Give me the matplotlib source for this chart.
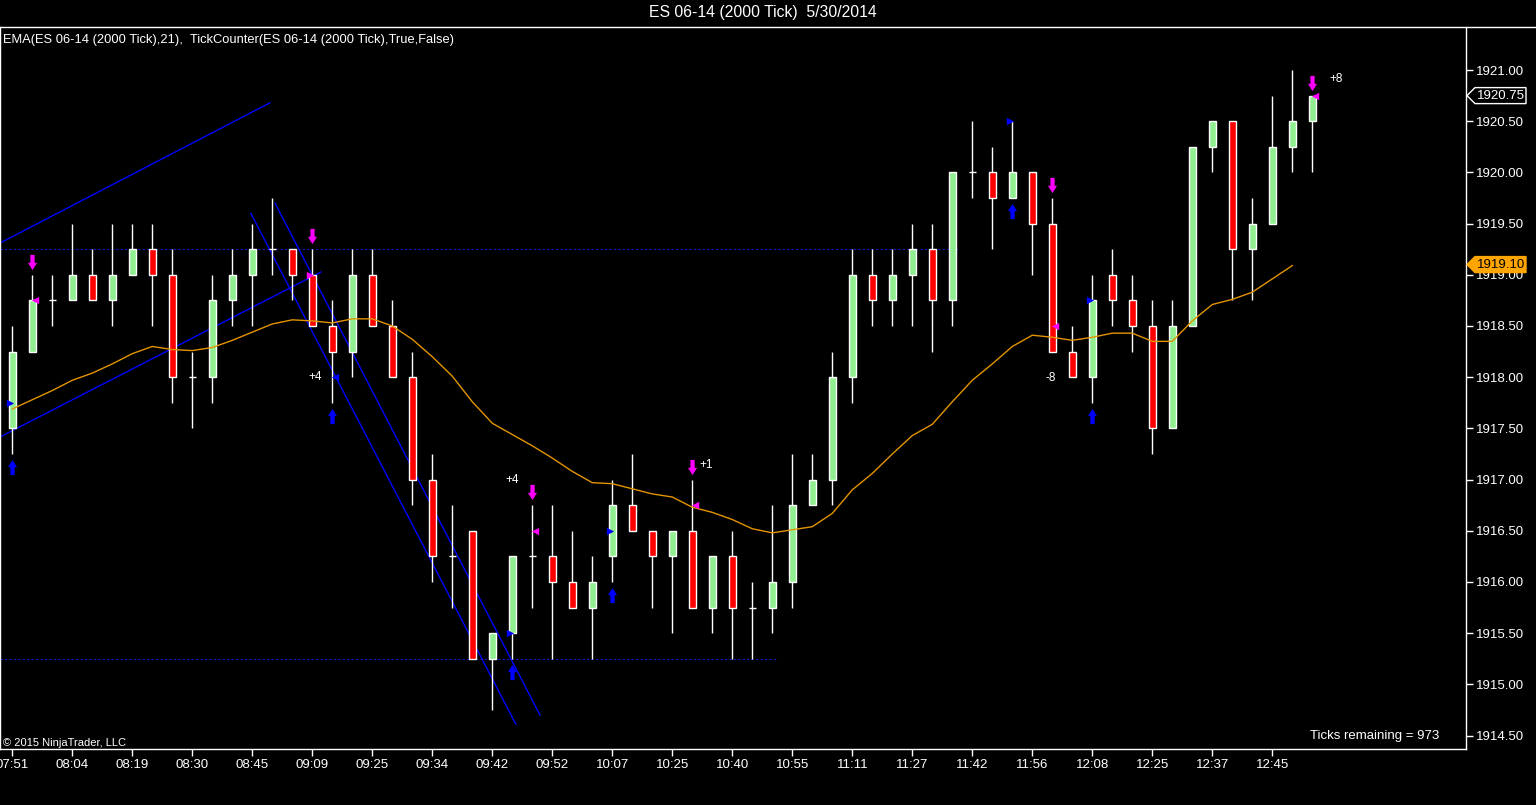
import numpy as np
import matplotlib
matplotlib.use('Agg')
import matplotlib.pyplot as plt
from matplotlib.path import Path
from matplotlib.patches import Polygon
from matplotlib.lines import Line2D
from matplotlib.transforms import blended_transform_factory

plt.rcParams['font.family'] = ['Liberation Sans', 'DejaVu Sans']

# ---- data (one candle per 2000 ticks) ----
time_labels = ['07:51', '08:04', '08:19', '08:30', '08:45', '09:09', '09:25', '09:34',
               '09:42', '09:52', '10:07', '10:25', '10:40', '10:55', '11:11', '11:27',
               '11:42', '11:56', '12:08', '12:25', '12:37', '12:45']

opens = [1917.50, 1918.25, 1918.75, 1918.75, 1919.00, 1918.75, 1919.00, 1919.25, 1919.00, 1918.00,
         1918.00, 1918.75, 1919.00, 1919.25, 1919.25, 1919.00, 1918.50, 1918.25, 1919.00, 1918.50,
         1918.00, 1917.00, 1916.25, 1916.50, 1915.25, 1915.50, 1916.25, 1916.25, 1916.00, 1915.75,
         1916.25, 1916.75, 1916.50, 1916.25, 1916.50, 1915.75, 1916.25, 1915.75, 1915.75, 1916.00,
         1916.75, 1917.00, 1918.00, 1919.00, 1918.75, 1919.00, 1919.25, 1918.75, 1920.00, 1920.00,
         1919.75, 1920.00, 1919.50, 1918.25, 1918.00, 1919.00, 1918.75, 1918.50, 1917.50, 1918.50,
         1920.25, 1920.50, 1919.25, 1919.50, 1920.25, 1920.50]
highs = [1918.50, 1919.00, 1919.00, 1919.50, 1919.25, 1919.50, 1919.50, 1919.50, 1919.25, 1918.25,
         1919.00, 1919.25, 1919.50, 1919.75, 1919.25, 1919.25, 1918.75, 1919.25, 1919.25, 1918.75,
         1918.25, 1917.25, 1916.75, 1916.50, 1915.50, 1916.25, 1916.75, 1916.75, 1916.50, 1916.25,
         1917.00, 1917.25, 1916.50, 1916.50, 1917.00, 1916.25, 1916.50, 1916.00, 1916.75, 1917.25,
         1917.25, 1918.25, 1919.25, 1919.25, 1919.25, 1919.50, 1919.50, 1920.00, 1920.50, 1920.25,
         1920.50, 1920.00, 1919.75, 1918.50, 1919.00, 1919.25, 1919.00, 1918.75, 1918.75, 1920.25,
         1920.50, 1920.50, 1919.75, 1920.75, 1921.00, 1920.75]
lows = [1917.25, 1918.25, 1918.50, 1918.75, 1918.75, 1918.50, 1919.00, 1918.50, 1917.75, 1917.50,
        1917.75, 1918.50, 1918.50, 1919.00, 1918.75, 1918.50, 1917.75, 1918.00, 1918.50, 1918.00,
        1916.75, 1916.00, 1915.75, 1915.25, 1914.75, 1915.25, 1915.75, 1915.25, 1915.75, 1915.25,
        1916.00, 1916.50, 1915.75, 1915.50, 1915.75, 1915.50, 1915.25, 1915.25, 1915.50, 1915.75,
        1916.75, 1916.75, 1917.75, 1918.50, 1918.50, 1918.50, 1918.25, 1918.50, 1919.75, 1919.25,
        1919.75, 1919.00, 1918.25, 1918.00, 1917.75, 1918.50, 1918.25, 1917.25, 1917.50, 1918.50,
        1920.00, 1918.75, 1918.75, 1919.50, 1920.00, 1920.00]
closes = [1918.25, 1918.75, 1918.75, 1919.00, 1918.75, 1919.00, 1919.25, 1919.00, 1918.00, 1918.00,
          1918.75, 1919.00, 1919.25, 1919.25, 1919.00, 1918.50, 1918.25, 1919.00, 1918.50, 1918.00,
          1917.00, 1916.25, 1916.25, 1915.25, 1915.50, 1916.25, 1916.25, 1916.00, 1915.75, 1916.00,
          1916.75, 1916.50, 1916.25, 1916.50, 1915.75, 1916.25, 1915.75, 1915.75, 1916.00, 1916.75,
          1917.00, 1918.00, 1919.00, 1918.75, 1919.00, 1919.25, 1918.75, 1920.00, 1920.00, 1919.75,
          1920.00, 1919.50, 1918.25, 1918.00, 1918.75, 1918.75, 1918.50, 1917.50, 1918.50, 1920.25,
          1920.50, 1919.25, 1919.50, 1920.25, 1920.50, 1920.75]

# EMA(21), drawn up to the last closed bar
ema = [1917.69, 1917.78, 1917.87, 1917.97, 1918.04, 1918.13, 1918.23, 1918.30, 1918.27, 1918.26,
       1918.29, 1918.36, 1918.44, 1918.52, 1918.56, 1918.55, 1918.53, 1918.57, 1918.57, 1918.50,
       1918.37, 1918.20, 1918.01, 1917.76, 1917.55, 1917.44, 1917.33, 1917.21, 1917.08, 1916.97,
       1916.96, 1916.91, 1916.86, 1916.83, 1916.73, 1916.68, 1916.61, 1916.52, 1916.48, 1916.51,
       1916.54, 1916.67, 1916.90, 1917.06, 1917.25, 1917.43, 1917.54, 1917.76, 1917.97, 1918.13,
       1918.30, 1918.41, 1918.39, 1918.36, 1918.39, 1918.43, 1918.43, 1918.35, 1918.35, 1918.55,
       1918.71, 1918.76, 1918.83, 1918.96, 1919.09]

# signal markers
up_arrow_bars = [0, 16, 25, 30, 50, 54]
down_arrow_bars = [1, 15, 26, 34, 52, 65]
blue_right_bars = [0, 25, 30, 50, 54]
blue_right_prices = [1917.75, 1915.50, 1916.50, 1920.50, 1918.75]
blue_left_bars = [16]
blue_left_prices = [1918.00]
mag_right_bars = [15]
mag_right_prices = [1919.00]
mag_left_bars = [1, 26, 34, 52, 65]
mag_left_prices = [1918.75, 1916.50, 1916.75, 1918.50, 1920.75]

# tick counter labels
count_texts = ['+4', '+4', '+1', '-8', '+8']
count_bars = [15.15, 24.98, 34.7, 51.9, 66.2]
count_prices = [1918.00, 1917.00, 1917.14, 1917.99, 1920.91]

# drawing objects (bar index, price)
trend_lines = [
    ([-0.615, 12.885], [1919.31, 1920.68]),
    ([-0.615, 15.43], [1917.416, 1919.027]),
    ([11.93, 25.18], [1919.60, 1914.61]),
    ([13.135, 26.385], [1919.70, 1914.70]),
]
hlines = [(1919.25, -0.615, 47.3), (1915.25, -0.615, 38.3)]

last_price = 1920.75
ema_price = 1919.10

# ---- figure ----
W, H = 1536, 805
fig = plt.figure(figsize=(W / 100, H / 100), dpi=100, facecolor='black')
ax_l, ax_b, ax_w, ax_h = 0, 56, 1466, 722
ax = fig.add_axes([ax_l / W, ax_b / H, ax_w / W, ax_h / H], facecolor='black')
ymin, ymax = 1914.369, 1921.42
ax.set_xlim(-0.615, 72.685)
ax.set_ylim(ymin, ymax)
ppu = ax_h / (ymax - ymin)   # pixels per price unit

x = np.arange(len(opens))
o = np.array(opens); c = np.array(closes)
hi = np.array(highs); lo = np.array(lows)

# drawing objects
for xs, ys in trend_lines:
    ax.plot(xs, ys, color='#0000FF', lw=1, zorder=1)
for y, x0, x1 in hlines:
    ax.plot([x0, x1], [y, y], color='#1818C8', lw=0.8, ls=(0, (2, 2)), zorder=1)

# candles
ax.vlines(x, lo, hi, color='white', lw=1, zorder=2)
cols = np.where(c > o, '#90EE90', np.where(c < o, '#FF0000', 'white'))
ax.bar(x, c - o, bottom=o, width=0.34, color=cols, edgecolor='white', lw=1, zorder=3)

# EMA
ax.plot(np.arange(len(ema)), ema, color='#E39400', lw=1, zorder=4)

# arrows
arrow_verts = [(-0.14, -0.5), (0.14, -0.5), (0.14, 0.02), (0.3, 0.02), (0, 0.5),
               (-0.3, 0.02), (-0.14, 0.02), (-0.14, -0.5)]
up_path = Path(arrow_verts, closed=True)
down_path = Path([(vx, -vy) for vx, vy in arrow_verts], closed=True)
off = 13 / ppu
ax.scatter(up_arrow_bars, lo[up_arrow_bars] - off, marker=up_path, s=120,
           color='#0000FF', lw=0, zorder=5)
ax.scatter(down_arrow_bars, hi[down_arrow_bars] + off, marker=down_path, s=120,
           color='#FF00FF', lw=0, zorder=5)

# small triangles
ax.scatter(np.array(blue_right_bars) - 0.1, blue_right_prices, marker='>', s=28,
           color='#0000FF', lw=0, zorder=6)
ax.scatter(np.array(blue_left_bars) + 0.12, blue_left_prices, marker='<', s=28,
           color='#0000FF', lw=0, zorder=6)
ax.scatter(np.array(mag_right_bars) - 0.1, mag_right_prices, marker='>', s=28,
           color='#FF00FF', lw=0, zorder=6)
ax.scatter(np.array(mag_left_bars) + 0.12, mag_left_prices, marker='<', s=28,
           color='#FF00FF', lw=0, zorder=6)

for t, bx, by in zip(count_texts, count_bars, count_prices):
    ax.text(bx, by, t, color='white', fontsize=8.5, ha='center', va='center', zorder=7)

# axes styling
ax.yaxis.tick_right()
yt = np.arange(1914.5, 1921.01, 0.5)
ax.set_yticks(yt)
ax.set_yticklabels(['%.2f' % v for v in yt])
ax.set_xticks(np.arange(len(time_labels)) * 3)
ax.set_xticklabels(time_labels)
ax.tick_params(colors='white', labelsize=9.5, length=5, width=1, direction='out')
ax.tick_params(axis='y', pad=2)
ax.tick_params(axis='x', pad=2)
for side in ['left', 'right', 'bottom']:
    ax.spines[side].set_color('white')
    ax.spines[side].set_linewidth(1)
ax.spines['top'].set_visible(False)

# price markers on the axis
tr = blended_transform_factory(ax.transAxes, ax.transData)
px = 1 / ax_w
hh = 8 / ppu


def price_box(y, text, face, edge, tcolor):
    verts = [(1 + 1 * px, y), (1 + 9 * px, y + hh), (1 + 60 * px, y + hh),
             (1 + 60 * px, y - hh), (1 + 9 * px, y - hh)]
    ax.add_patch(Polygon(verts, closed=True, transform=tr, facecolor=face,
                         edgecolor=edge, lw=1, clip_on=False, zorder=10))
    ax.text(1 + 35 * px, y, text, transform=tr, color=tcolor, fontsize=9.5,
            ha='center', va='center', clip_on=False, zorder=11)


price_box(last_price, '%.2f' % last_price, 'black', 'white', 'white')
price_box(ema_price, '%.2f' % ema_price, '#FFA500', '#FFA500', 'black')

# texts
fig.text(763 / W, 1 - 13 / H, 'ES 06-14 (2000 Tick)  5/30/2014', color='white',
         fontsize=11.3, ha='center', va='center')
fig.add_artist(Line2D([0, 1], [1 - 27 / H, 1 - 27 / H], transform=fig.transFigure,
                      color='white', lw=1))
ax.text(3 * px, 1 - 13 / ax_h, 'EMA(ES 06-14 (2000 Tick),21),  TickCounter(ES 06-14 (2000 Tick),True,False)',
        transform=ax.transAxes, color='white', fontsize=9.3, ha='left', va='center')
ax.text(1439 * px, 13 / ax_h, 'Ticks remaining = 973', transform=ax.transAxes,
        color='white', fontsize=9.5, ha='right', va='center')
ax.text(3 * px, 6 / ax_h, '\u00a9 2015 NinjaTrader, LLC', transform=ax.transAxes,
        color='white', fontsize=8, ha='left', va='center',
        family=['Liberation Sans Narrow', 'Liberation Sans', 'DejaVu Sans'])

fig.savefig('out.png', dpi=100, facecolor='black')
